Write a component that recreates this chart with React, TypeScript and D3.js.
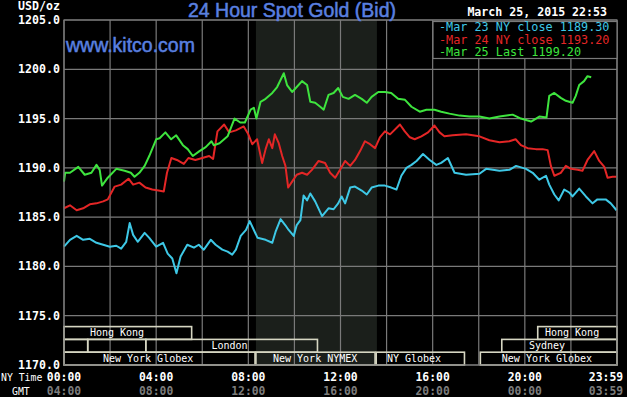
import React from "react";
import * as d3 from "d3";

// hour of NY day, price in USD/oz
const mar23Close: [number, number][] = [
  [0, 1182.0], [0.26, 1182.7], [0.55, 1183.1], [0.83, 1182.7], [1.12, 1182.8], [1.41, 1182.4],
  [1.7, 1182.2], [1.99, 1182.0], [2.27, 1182.1], [2.48, 1181.8], [2.7, 1182.5], [2.85, 1184.4],
  [3.0, 1183.2], [3.2, 1182.5], [3.5, 1183.4], [3.7, 1182.9], [4.0, 1182.0], [4.3, 1182.4],
  [4.5, 1181.3], [4.7, 1180.8], [4.88, 1179.3], [5.06, 1181.0], [5.35, 1182.2], [5.64, 1181.9],
  [5.85, 1182.2], [6.07, 1181.7], [6.37, 1182.7], [6.58, 1182.2], [6.87, 1181.7], [7.1, 1181.5],
  [7.3, 1181.2], [7.46, 1181.7], [7.67, 1183.1], [7.9, 1183.7], [8.06, 1184.6], [8.24, 1183.7],
  [8.4, 1182.9], [8.75, 1182.7], [9.04, 1182.4], [9.18, 1183.5], [9.4, 1184.8], [9.6, 1184.2],
  [9.75, 1183.7], [9.97, 1183.1], [10.1, 1184.2], [10.26, 1184.7], [10.4, 1187.2], [10.55, 1186.7],
  [10.69, 1187.4], [10.9, 1186.6], [11.2, 1185.1], [11.48, 1185.9], [11.7, 1185.8], [11.9, 1186.4],
  [12.05, 1187.1], [12.2, 1186.4], [12.42, 1188.0], [12.63, 1188.1], [12.92, 1187.7], [13.14, 1187.3],
  [13.35, 1188.0], [13.64, 1188.2], [13.93, 1188.2], [14.2, 1188.0], [14.43, 1187.8], [14.64, 1189.2],
  [14.86, 1190.0], [15.08, 1190.3], [15.3, 1190.7], [15.58, 1191.4], [15.87, 1190.8], [16.16, 1190.3],
  [16.37, 1190.5], [16.66, 1191.0], [16.95, 1189.5], [17.45, 1189.3], [18.03, 1189.4], [18.32, 1189.9],
  [18.9, 1189.7], [19.33, 1189.8], [19.62, 1190.2], [20.05, 1189.9], [20.34, 1189.5], [20.63, 1188.8],
  [20.92, 1189.2], [21.06, 1188.3], [21.28, 1187.3], [21.47, 1186.7], [21.71, 1187.8], [21.93, 1187.5],
  [22.07, 1187.1], [22.36, 1187.9], [22.65, 1187.1], [22.94, 1186.4], [23.15, 1186.8], [23.51, 1186.8],
  [23.73, 1186.4], [23.98, 1185.7],
];

const mar24Close: [number, number][] = [
  [0, 1185.9], [0.26, 1186.2], [0.55, 1185.7], [0.83, 1185.9], [1.12, 1186.3], [1.41, 1186.4],
  [1.7, 1186.6], [1.9, 1186.8], [2.2, 1188.1], [2.48, 1188.3], [2.8, 1188.9], [3.0, 1188.3],
  [3.27, 1188.5], [3.54, 1188.0], [3.83, 1187.8], [4.1, 1187.7], [4.33, 1187.6], [4.47, 1189.5],
  [4.66, 1191.0], [4.9, 1190.8], [5.2, 1190.4], [5.4, 1191.0], [5.7, 1190.8], [6.0, 1191.0],
  [6.3, 1191.2], [6.47, 1190.9], [6.66, 1193.7], [6.95, 1194.4], [7.17, 1193.6], [7.46, 1193.8],
  [7.8, 1194.2], [8.0, 1193.4], [8.17, 1192.4], [8.38, 1192.9], [8.6, 1190.5], [8.75, 1191.9],
  [8.89, 1192.9], [9.04, 1192.0], [9.15, 1193.4], [9.32, 1192.5], [9.47, 1191.2], [9.61, 1190.2],
  [9.73, 1188.0], [9.9, 1188.6], [10.1, 1189.3], [10.33, 1189.5], [10.55, 1189.3], [10.76, 1189.8],
  [11.05, 1190.7], [11.33, 1190.5], [11.55, 1189.5], [11.77, 1189.0], [11.98, 1189.8], [12.2, 1190.7],
  [12.42, 1190.2], [12.63, 1190.8], [12.85, 1191.7], [13.06, 1192.7], [13.28, 1192.4], [13.5, 1192.0],
  [13.71, 1193.1], [13.93, 1193.7], [14.15, 1193.4], [14.58, 1194.4], [14.79, 1193.7], [15.01, 1193.1],
  [15.22, 1192.9], [15.51, 1193.2], [15.8, 1193.6], [16.08, 1194.3], [16.3, 1193.6], [16.51, 1193.2],
  [16.87, 1193.3], [17.45, 1193.4], [18.03, 1193.2], [18.46, 1192.8], [18.9, 1192.6], [19.33, 1192.7],
  [19.6, 1192.9], [19.83, 1192.3], [20.12, 1192.0], [20.48, 1191.9], [20.77, 1191.9], [20.99, 1191.8],
  [21.13, 1190.2], [21.28, 1189.2], [21.56, 1189.5], [21.78, 1190.2], [22.0, 1189.9], [22.29, 1189.8],
  [22.5, 1189.7], [22.72, 1190.8], [23.01, 1191.7], [23.23, 1190.7], [23.45, 1190.1], [23.59, 1189.0],
  [23.81, 1189.1], [23.98, 1189.1],
];

const mar25Last: [number, number][] = [
  [0, 1188.6], [0.05, 1189.5], [0.26, 1189.5], [0.62, 1190.1], [0.9, 1189.3], [1.19, 1189.5],
  [1.41, 1190.3], [1.55, 1189.8], [1.65, 1188.2], [1.9, 1189.0], [2.27, 1189.9], [2.63, 1189.7],
  [2.9, 1189.5], [3.06, 1189.1], [3.27, 1189.5], [3.5, 1190.2], [3.7, 1191.2], [4.0, 1192.9],
  [4.15, 1193.0], [4.4, 1193.6], [4.65, 1192.9], [4.87, 1193.3], [5.16, 1192.3], [5.37, 1191.9],
  [5.59, 1191.2], [5.88, 1191.7], [6.15, 1192.1], [6.4, 1192.7], [6.5, 1192.3], [6.75, 1192.5],
  [7.1, 1193.2], [7.4, 1195.0], [7.65, 1194.6], [7.85, 1194.6], [8.1, 1195.9], [8.24, 1196.1],
  [8.35, 1195.0], [8.53, 1196.7], [8.75, 1197.0], [9.04, 1197.6], [9.25, 1198.2], [9.54, 1199.6],
  [9.68, 1198.4], [9.9, 1197.7], [10.1, 1198.2], [10.33, 1198.8], [10.55, 1198.4], [10.69, 1196.7],
  [10.9, 1196.6], [11.12, 1196.2], [11.27, 1195.9], [11.48, 1197.4], [11.7, 1197.6], [11.9, 1198.1],
  [12.1, 1197.2], [12.35, 1197.0], [12.63, 1197.4], [12.92, 1197.0], [13.14, 1196.6], [13.35, 1197.2],
  [13.64, 1197.7], [13.93, 1197.7], [14.2, 1197.6], [14.5, 1197.0], [14.8, 1196.9], [15.08, 1196.2],
  [15.44, 1195.7], [15.73, 1195.9], [16.08, 1195.9], [16.37, 1195.7], [16.73, 1195.5], [17.17, 1195.3],
  [17.6, 1195.2], [18.03, 1195.2], [18.46, 1195.0], [18.9, 1195.2], [19.47, 1195.4], [19.83, 1195.0],
  [20.27, 1194.7], [20.63, 1195.2], [20.94, 1195.1], [21.06, 1197.3], [21.28, 1197.6], [21.56, 1197.1],
  [21.78, 1196.8], [22.07, 1196.6], [22.21, 1197.3], [22.36, 1198.4], [22.57, 1198.8], [22.72, 1199.3],
  [22.88, 1199.2],
];

const legendItems = [
  { label: "Mar 23 NY close 1189.30", color: "#3ec8e6" },
  { label: "Mar 24 NY close 1193.20", color: "#e42626" },
  { label: "Mar 25 Last 1199.20", color: "#3ee43e" },
];

const nyTicks = [0, 4, 8, 12, 16, 20, 24];
const nyLabels = ["00:00", "04:00", "08:00", "12:00", "16:00", "20:00", "23:59"];
const gmtLabels = ["04:00", "08:00", "12:00", "16:00", "20:00", "00:00", "03:59"];

// trading sessions: row (0 top), start hour, end hour, label, label centre hour
const sessions = [
  { row: 0, start: 0, end: 5.54, label: "Hong Kong", at: 2.3 },
  { row: 0, start: 20.56, end: 24, label: "Hong Kong", at: 22.05 },
  { row: 1, start: 0, end: 1.03, label: "", at: 0.5 },
  { row: 1, start: 1.03, end: 3.55, label: "", at: 2.3 },
  { row: 1, start: 3.55, end: 11.0, label: "London", at: 7.18 },
  { row: 1, start: 19.0, end: 24, label: "Sydney", at: 20.96 },
  { row: 2, start: 0, end: 8.29, label: "New York Globex", at: 3.65 },
  { row: 2, start: 8.33, end: 13.5, label: "New York NYMEX", at: 10.9 },
  { row: 2, start: 13.55, end: 17.38, label: "NY Globex", at: 15.19 },
  { row: 2, start: 18.07, end: 24, label: "New York Globex", at: 20.96 },
];

const nymexShade = [8.33, 13.58];

const W = 627;
const H = 397;
const left = 64;
const right = 617;
const top = 20;
const bottom = 365;
const mono = "'DejaVu Sans Mono', monospace";
const sans = "'Liberation Sans', Arial, sans-serif";

export default function App() {
  const x = d3.scaleLinear().domain([0, 24]).range([left, right]);
  const y = d3.scaleLinear().domain([1170, 1205]).range([bottom, top]);
  const line = d3.line<[number, number]>().x(d => x(d[0])).y(d => y(d[1]));
  const yTicks = d3.range(1170, 1205.1, 5);
  const xGrid = d3.range(0, 24.1, 2);
  const rowH = 12.8;
  const rowTop = bottom - 3 * rowH;
  const lastShift = -11;

  return (
    <div style={{ position: "absolute", left: 0, top: 0 }}>
      <svg width={W} height={H} style={{ display: "block", background: "#000" }}>
        <rect width={W} height={H} fill="#000" />
        <rect x={x(nymexShade[0])} y={top} width={x(nymexShade[1]) - x(nymexShade[0])}
          height={bottom - top} fill="#1b1f1b" />

        {yTicks.map(t => (
          <line key={"gy" + t} x1={left} x2={right} y1={y(t)} y2={y(t)} stroke="#7a7a7a" strokeWidth={1.2} />
        ))}
        {xGrid.map(t => (
          <line key={"gx" + t} x1={x(t)} x2={x(t)} y1={top} y2={bottom} stroke="#7a7a7a" strokeWidth={1.2} />
        ))}

        {sessions.map((s, i) => (
          <g key={"s" + i}>
            <rect x={x(s.start)} y={rowTop + s.row * rowH} width={x(s.end) - x(s.start)} height={rowH}
              fill="none" stroke="#d6d6c2" strokeWidth={1.6} />
            {s.label && (
              <text x={x(s.at)} y={rowTop + s.row * rowH + rowH - 3} textAnchor="middle"
                fontFamily={mono} fontSize={10} fill="#fff">{s.label}</text>
            )}
          </g>
        ))}

        <path d={line(mar23Close) || ""} fill="none" stroke={legendItems[0].color} strokeWidth={2} strokeLinejoin="round" />
        <path d={line(mar24Close) || ""} fill="none" stroke={legendItems[1].color} strokeWidth={2} strokeLinejoin="round" />
        <path d={line(mar25Last) || ""} fill="none" stroke={legendItems[2].color} strokeWidth={2} strokeLinejoin="round" />

        <rect x={left} y={top} width={right - left} height={bottom - top} fill="none" stroke="#7a7a7a" strokeWidth={1.2} />

        {/* legend */}
        <rect x={433} y={21.5} width={right - 433} height={37} fill="#000" stroke="#7a7a7a" strokeWidth={1.2} />
        {legendItems.map((d, i) => (
          <text key={"l" + i} x={439} y={31 + i * 12.5} fontFamily={mono} fontSize={11.8} fill={d.color}>
            {"-" + d.label}
          </text>
        ))}

        <text x={292} y={17} textAnchor="middle" fontFamily={sans} fontSize={19.5} fill="#5a80e0"
          stroke="#5a80e0" strokeWidth={0.5}>24 Hour Spot Gold (Bid)</text>
        <text x={66} y={52} fontFamily={sans} fontSize={19.5} fill="#5a80e0"
          stroke="#5a80e0" strokeWidth={0.5}>www.kitco.com</text>
        <text x={607} y={16} textAnchor="end" fontFamily={mono} fontSize={11.6} fontWeight="bold"
          fill="#fff">March 25, 2015 22:53</text>

        <text x={60} y={10} textAnchor="end" fontFamily={mono} fontSize={11.6} fontWeight="bold" fill="#fff">USD/oz</text>
        {yTicks.map(t => (
          <text key={"ty" + t} x={60} y={y(t) + 4} textAnchor="end" fontFamily={mono} fontSize={11.6}
            fontWeight="bold" fill="#fff">{t.toFixed(1)}</text>
        ))}

        <text x={1} y={381} fontFamily={mono} fontSize={9.8} fill="#fff">NY Time</text>
        <text x={12} y={395} fontFamily={mono} fontSize={9.8} fill="#fff">GMT</text>
        {nyTicks.map((t, i) => (
          <g key={"tx" + t}>
            <text x={x(t) + (i === nyTicks.length - 1 ? lastShift : 0)} y={381} textAnchor="middle" fontFamily={mono}
              fontSize={11.4} fontWeight="bold" fill="#fff">{nyLabels[i]}</text>
            <text x={x(t) + (i === nyTicks.length - 1 ? lastShift : 0)} y={395} textAnchor="middle" fontFamily={mono}
              fontSize={11.4} fontWeight="bold" fill="#7c7c7c">{gmtLabels[i]}</text>
          </g>
        ))}
      </svg>
    </div>
  );
}
